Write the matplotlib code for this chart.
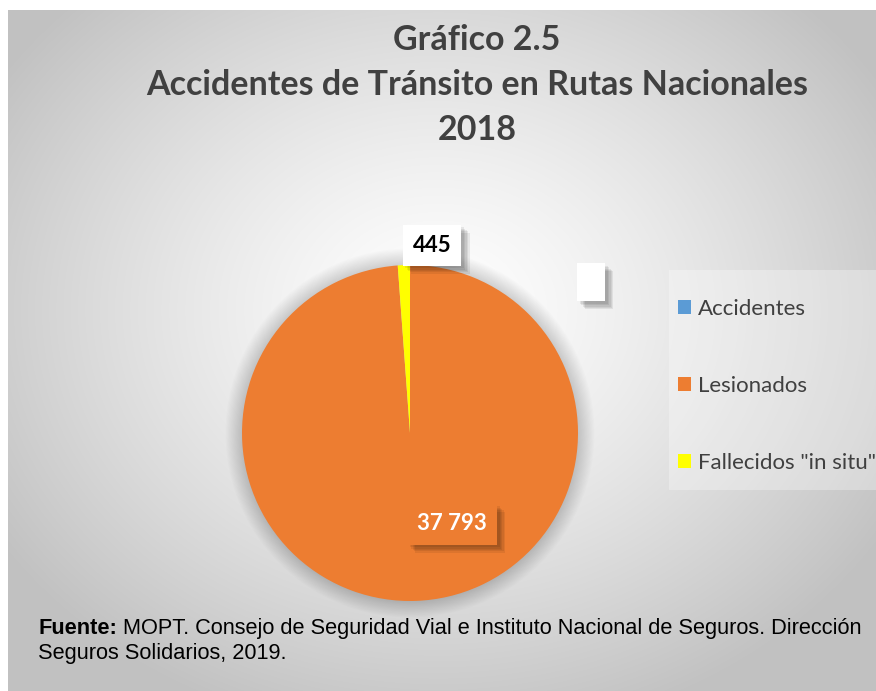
import matplotlib.pyplot as plt
import matplotlib.patheffects as pe
from matplotlib.patches import Rectangle, Circle
import numpy as np

categories = ["Accidentes", "Lesionados", 'Fallecidos "in situ"']
values = [0, 37793, 445]
value_labels = ["", "37 793", "445"]
colors = ["#5B9BD5", "#ED7D31", "#FFFF00"]

title_lines = ["Gráfico 2.5", "Accidentes de Tránsito en Rutas Nacionales", "2018"]
source_bold = "Fuente:"
source_rest = " MOPT. Consejo de Seguridad Vial e Instituto Nacional de Seguros. Dirección"
source_line2 = "Seguros Solidarios, 2019."

W, H = 876, 691
fig = plt.figure(figsize=(W / 100, H / 100), dpi=100)
fig.patch.set_facecolor("white")

# chart area background: radial gradient, white centre -> gray border
bg = fig.add_axes([8 / W, 0, (W - 8) / W, (H - 10) / H])
bg.set_axis_off()
yy, xx = np.mgrid[0:H - 10, 0:W - 8]
d = np.sqrt(((xx - 430) / 520.0) ** 2 + ((yy - 300) / 430.0) ** 2)
t = np.clip(d, 0, 1) ** 1.3
shade = 1.0 - 0.24 * t
bg.imshow(np.dstack([shade] * 3), aspect="auto", extent=(0, 1, 0, 1), origin="upper")
bg.set_xlim(0, 1)
bg.set_ylim(0, 1)

# legend panel
fig.patches.append(Rectangle((669 / W, 1 - 490 / H), (W - 669) / W, 220 / H,
                             transform=fig.transFigure, facecolor="white",
                             alpha=0.3, edgecolor="none", zorder=1))

# pie
cx, cy, r = 410, 433, 168
pad = 1.3
ax = fig.add_axes([(cx - r * pad) / W, (H - cy - r * pad) / H, 2 * r * pad / W, 2 * r * pad / H])

for k in range(14):
    ax.add_patch(Circle((0, 0), 1 + 0.007 * (14 - k), color="black", alpha=0.01, lw=0, zorder=0))

wedges, _ = ax.pie(values, colors=colors, startangle=90, counterclock=False,
                   radius=1.0, wedgeprops=dict(linewidth=0))
ax.set_xlim(-pad, pad)
ax.set_ylim(-pad, pad)
ax.set_aspect("equal")
ax.set_axis_off()

# soft drop shadow for the label boxes
shadow = [pe.SimplePatchShadow(offset=(o, -o), shadow_rgbFace="black", alpha=0.07)
          for o in (6, 5, 4, 3, 2)] + [pe.Normal()]

t1 = ax.text((432 - cx) / r, (cy - 245) / r, value_labels[2], ha="center", va="center",
             fontsize=16, fontweight="bold", family="Lato", color="black",
             bbox=dict(boxstyle="square,pad=0.45", facecolor="white", edgecolor="none"))
t1.get_bbox_patch().set_path_effects(shadow)

t2 = ax.text((452 - cx) / r, (cy - 524) / r, value_labels[1], ha="center", va="center",
             fontsize=16, fontweight="bold", family="Lato", color="white",
             bbox=dict(boxstyle="square,pad=0.45", facecolor=colors[1], edgecolor="none"))
t2.get_bbox_patch().set_path_effects(shadow)

# empty label box of "Accidentes"
fig.patches.append(Rectangle((577 / W, 1 - 301 / H), 28 / W, 38 / H, transform=fig.transFigure,
                             facecolor="white", edgecolor="none", zorder=3,
                             path_effects=shadow))

# title
for i, line in enumerate(title_lines):
    fig.text(477 / W, 1 - (40 + 45 * i) / H, line, ha="center", va="center",
             fontsize=24.5, fontweight="bold", family="Lato", color="#404040")

# legend
handles = [Rectangle((0, 0), 1, 1, facecolor=c, edgecolor="none") for c in colors]
fig.legend(handles, categories, loc="upper left", bbox_to_anchor=(678 / W, 1 - 299 / H),
           frameon=False, labelcolor="#404040", handlelength=0.58, borderpad=0,
           borderaxespad=0, handleheight=0.58, handletextpad=0.3, labelspacing=2.57,
           prop=dict(family="Lato", size=16))

# source note
s1 = fig.text(38 / W, 1 - 639 / H, source_bold, ha="left", va="bottom", fontsize=15.7,
              fontweight="bold", family="Liberation Sans", color="black")
ax_src = fig.add_axes([0, 0, 1, 1], facecolor="none")
ax_src.set_axis_off()
ax_src.annotate(source_rest, xy=(1, 0), xycoords=s1, ha="left", va="bottom",
                fontsize=15.7, family="Liberation Sans", color="black")
fig.text(38 / W, 1 - 664 / H, source_line2, ha="left", va="bottom", fontsize=15.7,
         family="Liberation Sans", color="black")

fig.savefig("out.png", dpi=100)
